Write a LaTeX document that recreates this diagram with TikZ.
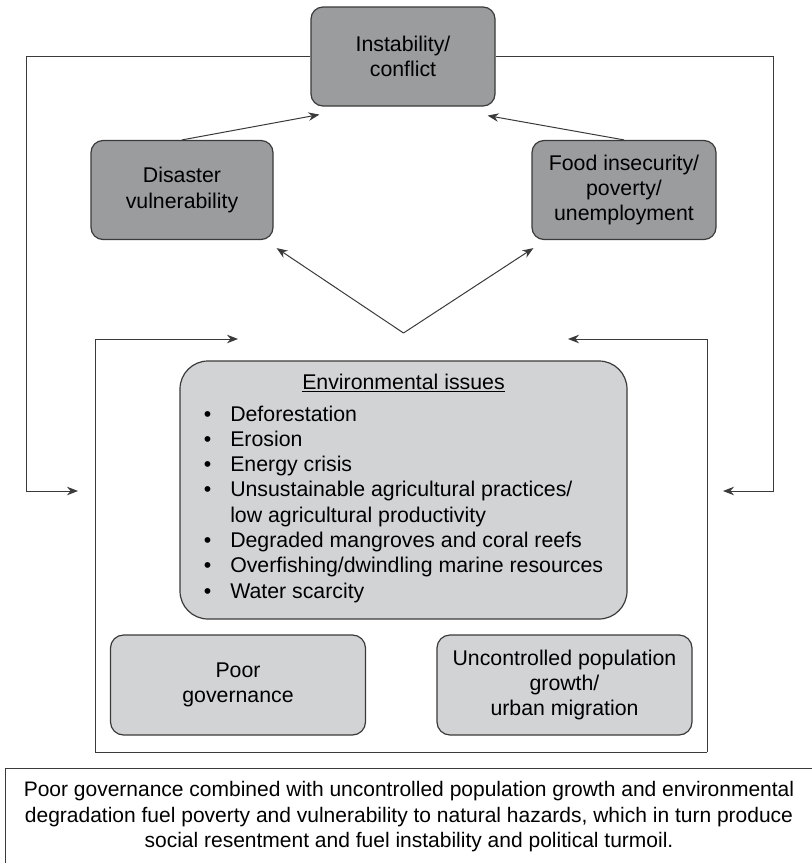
\documentclass[tikz,border=0pt]{standalone}
\usepackage{fontspec}
\setmainfont{Liberation Sans}
\usepackage{xcolor}
\usetikzlibrary{arrows.meta}
\definecolor{customgray1}{HTML}{9B9C9E}
\definecolor{customgray2}{HTML}{D2D3D5}
\definecolor{customline}{HTML}{3A3A3A}

\begin{document}
\begin{tikzpicture}[
    darkbox/.style = {fill = customgray1, draw = customline, line width = 1.2pt, rectangle, rounded corners = 12pt, minimum width = 184pt, minimum height = 99pt, align = center, font = \fontsize{21.3}{25.3}\selectfont},
    lightbox/.style = {darkbox, fill = customgray2, rounded corners = 13pt, minimum width = 255pt, minimum height = 100pt},
    link/.style = {-{Stealth[length = 11pt, width = 8.5pt]}, line width = 1pt, color = customline}
  ]
  \useasboundingbox (0pt, 0pt) rectangle (812pt, -863pt);

  % Nodes
  \node [darkbox] (inst) at (403pt, -56.5pt) {Instability/\\conflict};
  \node [darkbox, minimum width = 182pt] (dis) at (182pt, -190pt) {Disaster\\vulnerability};
  \node [darkbox] (food) at (624pt, -190pt) {Food insecurity/\\poverty/\\unemployment};
  \node [lightbox, rounded corners = 28pt, minimum width = 447pt, minimum height = 258pt] (env) at (403.5pt, -490pt) {%
    \underline{Environmental issues}\\[6pt]
    \begin{tabular}[t]{@{}l@{\hspace{19pt}}l@{}}
      \textbullet & Deforestation\\
      \textbullet & Erosion\\
      \textbullet & Energy crisis\\
      \textbullet & Unsustainable agricultural practices/\\
                  & low agricultural productivity\\
      \textbullet & Degraded mangroves and coral reefs\\
      \textbullet & Overfishing/dwindling marine resources\\
      \textbullet & Water scarcity
    \end{tabular}};
  \node [lightbox] (gov) at (238pt, -685pt) {Poor\\governance};
  \node [lightbox] (pop) at (564.5pt, -685pt) {Uncontrolled population\\growth/\\urban migration};
  \node [draw = customline, line width = 1pt, rectangle, minimum width = 808pt, minimum height = 98pt, align = center, font = \fontsize{21}{25.5}\selectfont] (cap) at (409pt, -817pt) {Poor governance combined with uncontrolled population growth and environmental\\degradation fuel poverty and vulnerability to natural hazards, which in turn produce\\social resentment and fuel instability and political turmoil.};

  % Frame corners and loop ends
  \coordinate (itl) at (95pt, -339pt);
  \coordinate (itr) at (707pt, -339pt);
  \coordinate (ibl) at (95pt, -752pt);
  \coordinate (ibr) at (707pt, -752pt);
  \coordinate (fork) at (403.5pt, -333pt);
  \coordinate (lin) at (78pt, -491pt);
  \coordinate (rin) at (723pt, -491pt);

  % Draw the links
  \draw [link] (dis.north) -- ([shift = {(9pt, -8pt)}]inst.south west);
  \draw [link] (food.north) -- ([shift = {(-8pt, -9pt)}]inst.south east);
  \draw [link] (fork) -- ([shift = {(3pt, -8pt)}]dis.south east);
  \draw [link] (fork) -- ([shift = {(2pt, -8pt)}]food.south west);
  \draw [link] (inst.west) -- ++(-284pt, 0pt) |- (lin);
  \draw [link] (inst.east) -- ++(278pt, 0pt) |- (rin);
  \draw [link] (ibr) -- (ibl) -- (itl) -- ([xshift = 143pt]itl);
  \draw [link] (ibr) -- (itr) -- ([xshift = -139pt]itr);

\end{tikzpicture}
\end{document}
